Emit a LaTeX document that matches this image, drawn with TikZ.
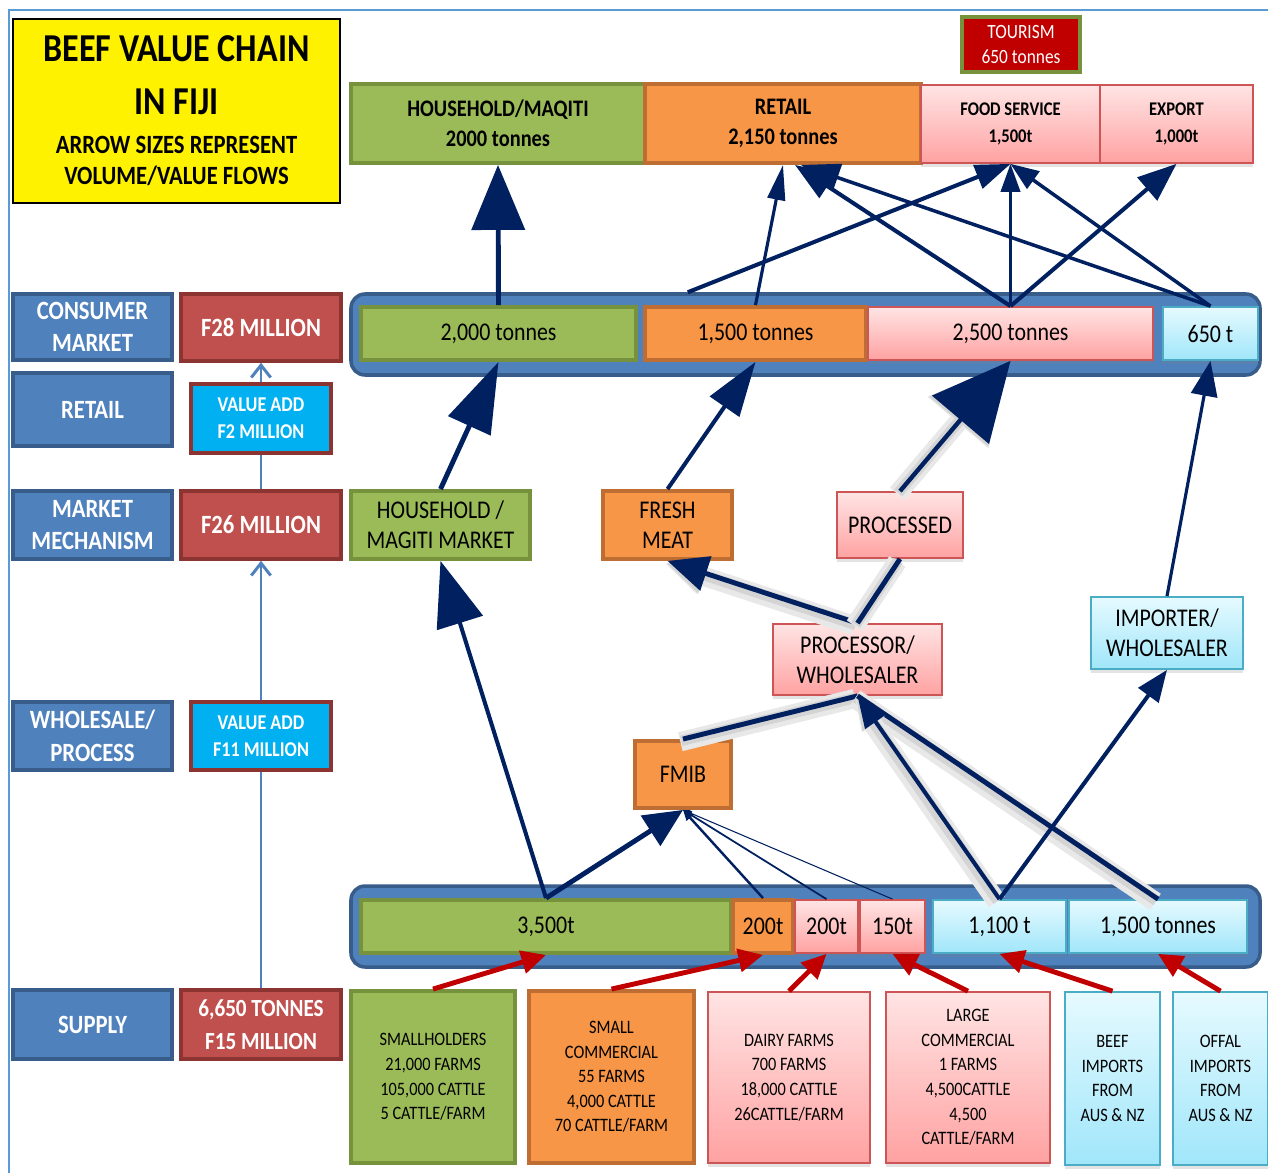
\documentclass[tikz,border=0pt]{standalone}
\usepackage{fontspec}
\setmainfont{Carlito}[FakeStretch=0.86]
\usetikzlibrary{arrows.meta, calc, shadows}
\definecolor{navy}{RGB}{0,32,96}
\definecolor{barblue}{RGB}{79,129,189}
\definecolor{baredge}{RGB}{56,93,138}
\definecolor{wine}{RGB}{192,80,77}
\definecolor{wineedge}{RGB}{140,52,50}
\definecolor{skyfill}{RGB}{0,176,240}
\definecolor{leaf}{RGB}{155,187,89}
\definecolor{leafedge}{RGB}{118,146,60}
\definecolor{tang}{RGB}{247,150,70}
\definecolor{tangedge}{RGB}{190,110,50}
\definecolor{pinktop}{RGB}{255,228,228}
\definecolor{pinkbot}{RGB}{255,162,162}
\definecolor{pinkedge}{RGB}{205,85,85}
\definecolor{icetop}{RGB}{230,250,255}
\definecolor{icebot}{RGB}{160,230,250}
\definecolor{iceedge}{RGB}{75,172,198}
\definecolor{flowred}{RGB}{192,0,0}
\definecolor{framebl}{RGB}{91,155,213}

\tikzset{
  every node/.style={inner sep=0pt, align=center},
  sized/.style 2 args={minimum width=#1*0.02cm, minimum height=#2*0.02cm},
  titlebox/.style={draw=black, fill=yellow, line width=0.8pt},
  levelbox/.style={draw=baredge, fill=barblue, line width=2pt, text=white,
    font=\bfseries\fontsize{15}{18.5}\selectfont},
  moneybox/.style={draw=wineedge, fill=wine, line width=2pt, text=white,
    font=\bfseries\fontsize{15}{18.5}\selectfont},
  addbox/.style={draw=wineedge, fill=skyfill, line width=2pt, text=white,
    font=\bfseries\fontsize{12}{15.5}\selectfont},
  leafbox/.style={draw=leafedge, fill=leaf, line width=2.2pt},
  tangbox/.style={draw=tangedge, fill=tang, line width=2.2pt},
  softshadow/.style={drop shadow={opacity=0.22, shadow xshift=0pt, shadow yshift=-2pt}},
  pinkbox/.style={softshadow, draw=pinkedge, top color=pinktop, bottom color=pinkbot, line width=1pt},
  icebox/.style={softshadow, draw=iceedge, top color=icetop, bottom color=icebot, line width=1pt},
  band/.style={draw=baredge, fill=barblue, line width=2pt, rounded corners=8pt},
  endtxt/.style={font=\bfseries\fontsize{13.5}{17}\selectfont},
  segtxt/.style={font=\fontsize{14.5}{17}\selectfont},
  midtxt/.style={font=\fontsize{14.5}{17}\selectfont},
  srctxt/.style={font=\fontsize{10.8}{14}\selectfont},
  navflow/.style={draw=navy, line width=#1},
  headed/.style 2 args={-{Triangle[length=#1, width=#2]}},
  ghost/.style={preaction={draw=black!9, line width=11pt, transform canvas={shift={(-1.5pt,-1.5pt)}}},
    preaction={draw=black!17, line width=6pt, transform canvas={shift={(-1pt,-1pt)}}}},
  redflow/.style={draw=flowred, line width=2.8pt, -{Triangle[length=14pt, width=13pt]}},
  chainline/.style={draw=barblue, line width=1.7pt},
  chainhead/.style={-{Straight Barb[length=7pt, width=11pt]}},
}

\begin{document}
\begin{tikzpicture}[x=0.02cm, y=-0.02cm]
\useasboundingbox (0,0) rectangle (1268,1173);
\draw[framebl, line width=1.2pt] (9,1173) -- (9,10) -- (1268,10);

% title
\node[titlebox, sized={327}{184}, font=\bfseries\fontsize{22.5}{30}\selectfont] (title) at (176.5,111)
  {BEEF VALUE CHAIN\\IN FIJI\\[-8pt]{\fontsize{15}{18}\selectfont ARROW SIZES REPRESENT}\\[-12pt]{\fontsize{15}{18}\selectfont VOLUME/VALUE FLOWS}};

% levels and values
\node[levelbox, sized={159}{66}] (consumer) at (92.5,327) {CONSUMER\\MARKET};
\node[levelbox, sized={159}{73}] (retaillv) at (92.5,409.5) {RETAIL};
\node[levelbox, sized={159}{68}] (mechanism) at (92.5,525) {MARKET\\MECHANISM};
\node[levelbox, sized={159}{68}] (wholesale) at (92.5,736) {WHOLESALE/\\PROCESS};
\node[levelbox, sized={159}{69}] (supply) at (92.5,1024.5) {SUPPLY};
\node[moneybox, sized={160}{67}] (money28) at (261,327.5) {F28 MILLION};
\node[addbox, sized={140}{69}] (add2) at (261,418.5) {VALUE ADD\\F2 MILLION};
\node[moneybox, sized={160}{68}] (money26) at (261,525) {F26 MILLION};
\node[addbox, sized={140}{68}] (add11) at (261,736) {VALUE ADD\\F11 MILLION};
\node[moneybox, sized={160}{69}, font=\bfseries\fontsize{14}{18.5}\selectfont] (money15) at (261,1024.5) {6,650 TONNES\\F15 MILLION};

\draw[chainline] (money15.north) -- (add11.south);
\draw[chainline, chainhead] (add11.north) -- (money26.south);
\draw[chainline] (money26.north) -- (add2.south);
\draw[chainline, chainhead] (add2.north) -- (money28.south);

% end markets
\node[leafbox, endtxt, sized={294}{79}] (hhq) at (498,123.5) {HOUSEHOLD/MAQITI\\2000 tonnes};
\node[tangbox, endtxt, sized={276}{79}] (retail) at (783,123.5) {RETAIL\\2,150 tonnes};
\node[pinkbox, font=\bfseries\fontsize{11}{15.5}\selectfont, sized={179}{78}] (foodsvc) at (1010.5,124) {FOOD SERVICE\\1,500t};
\node[pinkbox, font=\bfseries\fontsize{11}{15.5}\selectfont, sized={153}{78}] (export) at (1176.5,124) {EXPORT\\1,000t};
\node[draw=leafedge, fill=flowred, line width=2pt, text=white, font=\fontsize{11.5}{14.5}\selectfont, sized={118}{55}] (tourism) at (1021,44.5) {TOURISM\\650 tonnes};

% consumer market band
\node[band, sized={909}{81}] (cband) at (805.5,334.5) {};
\node[leafbox, segtxt, sized={275}{53}] (c2000) at (498.5,333.5) {2,000 tonnes};
\node[tangbox, segtxt, sized={221}{53}] (c1500) at (755.5,333.5) {1,500 tonnes};
\node[pinkbox, segtxt, sized={285}{53}] (c2500) at (1010.5,333.5) {2,500 tonnes};
\node[icebox, segtxt, sized={95}{53}] (c650) at (1210.5,333.5) {650 t};

% market mechanism and processing
\node[leafbox, midtxt, sized={179}{68}] (magiti) at (440.5,525) {HOUSEHOLD /\\MAGITI MARKET};
\node[tangbox, midtxt, sized={129}{68}] (fresh) at (667.5,525) {FRESH\\MEAT};
\node[pinkbox, midtxt, sized={126}{66}] (processed) at (900,525) {PROCESSED};
\node[pinkbox, midtxt, sized={169}{71}] (processor) at (857.5,659.5) {PROCESSOR/\\WHOLESALER};
\node[icebox, midtxt, sized={152}{72}] (importer) at (1167,633) {IMPORTER/\\WHOLESALER};
\node[tangbox, midtxt, sized={96}{67}] (fmib) at (683,774.5) {FMIB};

% supply band
\node[band, sized={909}{81}] (sband) at (805.5,926.5) {};
\node[leafbox, segtxt, sized={370}{53}] (s3500) at (546,926.5) {3,500t};
\node[tangbox, segtxt, sized={60}{53}] (s200o) at (763,926.5) {200t};
\node[pinkbox, segtxt, sized={63}{53}] (s200p) at (826.5,926.5) {200t};
\node[pinkbox, segtxt, sized={65}{53}] (s150) at (892.5,926.5) {150t};
\node[icebox, segtxt, sized={133}{53}] (s1100) at (999.5,926.5) {1,100 t};
\node[icebox, segtxt, sized={178}{53}] (s1500) at (1158,926.5) {1,500 tonnes};

% producers
\node[leafbox, srctxt, sized={164}{172}] (smallh) at (433,1077) {SMALLHOLDERS\\21,000 FARMS\\105,000 CATTLE\\5 CATTLE/FARM};
\node[tangbox, srctxt, sized={165}{172}] (smallc) at (611.5,1077) {SMALL\\COMMERCIAL\\55 FARMS\\4,000 CATTLE\\70 CATTLE/FARM};
\node[pinkbox, srctxt, sized={162}{171}] (dairy) at (789,1077.5) {DAIRY FARMS\\700 FARMS\\18,000 CATTLE\\26CATTLE/FARM};
\node[pinkbox, srctxt, sized={164}{171}] (largec) at (968,1077.5) {LARGE\\COMMERCIAL\\1 FARMS\\4,500CATTLE\\4,500\\CATTLE/FARM};
\node[icebox, srctxt, sized={95}{173}] (beefimp) at (1112.5,1078.5) {BEEF\\IMPORTS\\FROM\\AUS \& NZ};
\node[icebox, srctxt, sized={95}{173}] (offalimp) at (1220.5,1078.5) {OFFAL\\IMPORTS\\FROM\\AUS \& NZ};

% producers -> supply
\draw[redflow] (smallh.north) -- (s3500.south);
\draw[redflow] (smallc.north) -- (s200o.south);
\draw[redflow] (dairy.north) -- (s200p.south);
\draw[redflow] (largec.north) -- (s150.south);
\draw[redflow] (beefimp.north) -- (s1100.south);
\draw[redflow] (offalimp.north) -- (s1500.south);

% supply -> middle
\draw[navflow=2.3pt, headed={37pt}{27pt}] (s3500.north) -- (magiti.south);
\draw[navflow=2.8pt, headed={22pt}{20pt}] (s3500.north) -- (fmib.south);
\draw[navflow=1.4pt, headed={6pt}{5pt}] (s200o.north) -- (fmib.south);
\draw[navflow=1pt, headed={5pt}{4pt}] (s200p.north) -- (fmib.south);
\draw[navflow=0.6pt, headed={4pt}{3pt}] (s150.north) -- (fmib.south);
\draw[ghost, navflow=2.8pt] (fmib.north) -- (processor.south);
\draw[ghost, navflow=2.8pt] (s1500.north) -- (processor.south);
\draw[ghost, navflow=2.3pt, headed={18pt}{14pt}] (s1100.north) -- (processor.south);
\draw[navflow=2.3pt, headed={18pt}{14pt}] (s1100.north) -- (importer.south);
\draw[ghost, navflow=2.8pt, headed={23pt}{20pt}] (processor.north) -- (fresh.south);
\draw[ghost, navflow=2.8pt] (processor.north) -- (processed.south);

% middle -> consumer market
\draw[navflow=2.8pt, headed={40pt}{26pt}] (magiti.north) -- (c2000.south);
\draw[navflow=2.3pt, headed={31pt}{20pt}] (fresh.north) -- (c1500.south);
\draw[ghost, navflow=2.5pt, headed={44pt}{42pt}] (processed.north) -- (c2500.south);
\draw[navflow=1.8pt, headed={20pt}{15pt}] (importer.north) -- (c650.south);

% consumer market -> end markets
\draw[navflow=2.8pt, headed={37pt}{30pt}] (c2000.north) -- (hhq.south);
\draw[navflow=1.8pt, headed={20pt}{10pt}] (c1500.north) -- (retail.south);
\draw[navflow=2.3pt, headed={20pt}{14pt}] ($(cband.north west)!0.371!(cband.north east)$) -- (foodsvc.south);
\draw[navflow=2.3pt, headed={22pt}{16pt}] (c2500.north) -- ($(retail.south)+(12,0)$);
\draw[navflow=1.8pt, headed={16pt}{11pt}] (c2500.north) -- (foodsvc.south);
\draw[navflow=2.3pt, headed={22pt}{17pt}] (c2500.north) -- (export.south);
\draw[navflow=2pt, headed={22pt}{16pt}] (c650.north) -- ($(retail.south)+(18,0)$);
\draw[navflow=2pt, headed={16pt}{12pt}] (c650.north) -- (foodsvc.south);
\end{tikzpicture}
\end{document}
